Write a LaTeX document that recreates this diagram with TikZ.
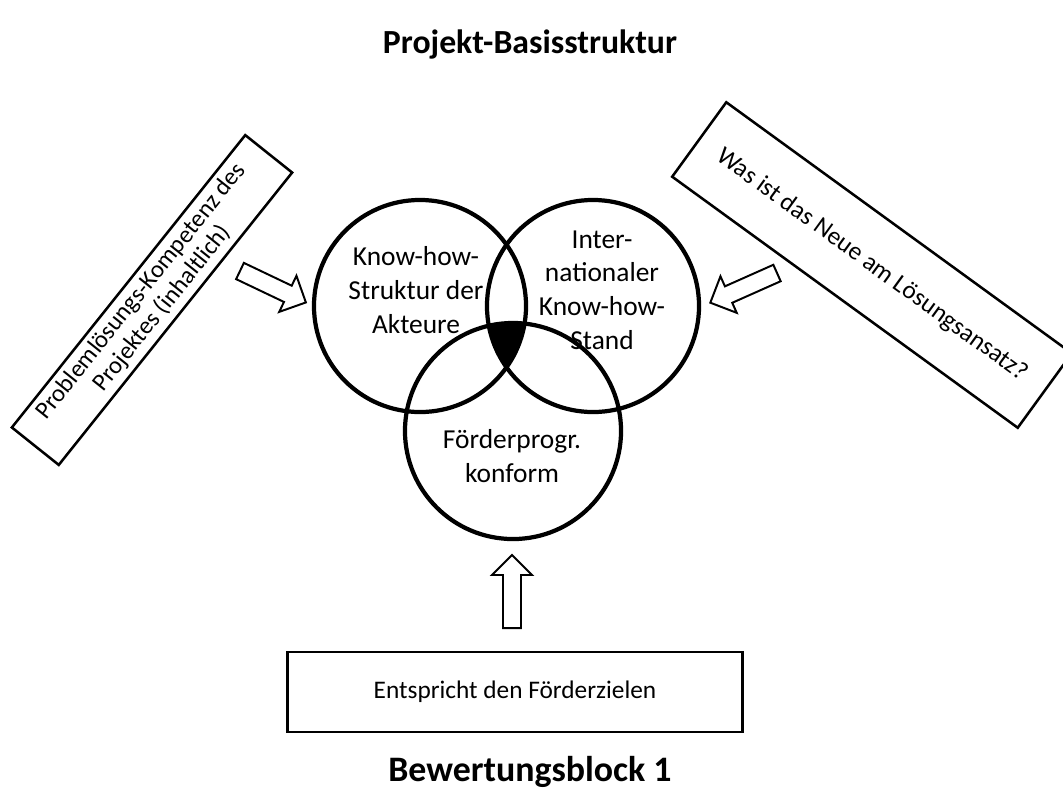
\documentclass[tikz,border=0pt]{standalone}
\usepackage{fontspec}
\setmainfont{Carlito}
\usetikzlibrary{positioning}
\tikzset{
  blockpfeil/.pic={\draw[line width=1.4pt,fill=white,line join=miter]
    (0,-9) -- (53,-9) -- (53,-20) -- (73,0) -- (53,20) -- (53,9) -- (0,9) -- cycle;}
}

\begin{document}
\begin{tikzpicture}[x=0.025cm,y=-0.025cm,
  kreis/.style={circle,draw,line width=3pt,inner sep=0pt},
  kreistext/.style={align=center,font=\fontsize{19.5}{24}\selectfont},
  kasten/.style={draw,line width=1.8pt,align=center,inner sep=0pt,font=\fontsize{18}{24}\selectfont},
  kopf/.style={font=\bfseries\fontsize{24}{29}\selectfont}]
\useasboundingbox (0,0) rectangle (1063,798);
\node[kopf] (titel) at (530,45) {Projekt-Basisstruktur};
% die drei Kreise
\node[kreis,minimum size=5.3cm] (akteure) at (420,306) {};
\node[kreis,minimum size=5.3cm] (stand) at (593,306) {};
\node[kreis,minimum size=5.4cm] (foerder) at (513,431) {};
\begin{scope}
  \clip (akteure.center) circle[radius=2.65cm];
  \clip (stand.center) circle[radius=2.65cm];
  \fill (foerder.center) circle[radius=2.7cm];
\end{scope}
\node[kreistext] (akteuretext) at (416,290) {Know-how-\\Struktur der\\Akteure};
\node[kreistext] (standtext) at (602,290) {Inter-\\nationaler\\Know-how-\\Stand};
\node[kreistext] (foerdertext) at (512,456) {Förderprogr.\\konform};
% Kaesten
\node[kasten,rotate=51.4,minimum width=9.35cm,minimum height=1.5cm,
  font=\fontsize{17.5}{19}\selectfont] (kompetenz) at (152,300)
  {Problemlösungs-Kompetenz des\\Projektes (inhaltlich)};
\node[kasten,rotate=-36,minimum width=10.675cm,minimum height=2.3cm] (neu) at (872,265)
  {Was ist das Neue am Lösungsansatz?};
\node[kasten,minimum width=11.375cm,minimum height=2cm] (ziele) at (515,692)
  {Entspricht den Förderzielen};
% Blockpfeile
\pic[rotate=-25.5] at (240,271) {blockpfeil};
\pic[rotate=204] at (777,273) {blockpfeil};
\pic[rotate=90] at (512,628) {blockpfeil};
\node[kopf,font=\bfseries\fontsize{25.5}{31}\selectfont] (block) at (530,772) {Bewertungsblock 1};
\end{tikzpicture}
\end{document}
